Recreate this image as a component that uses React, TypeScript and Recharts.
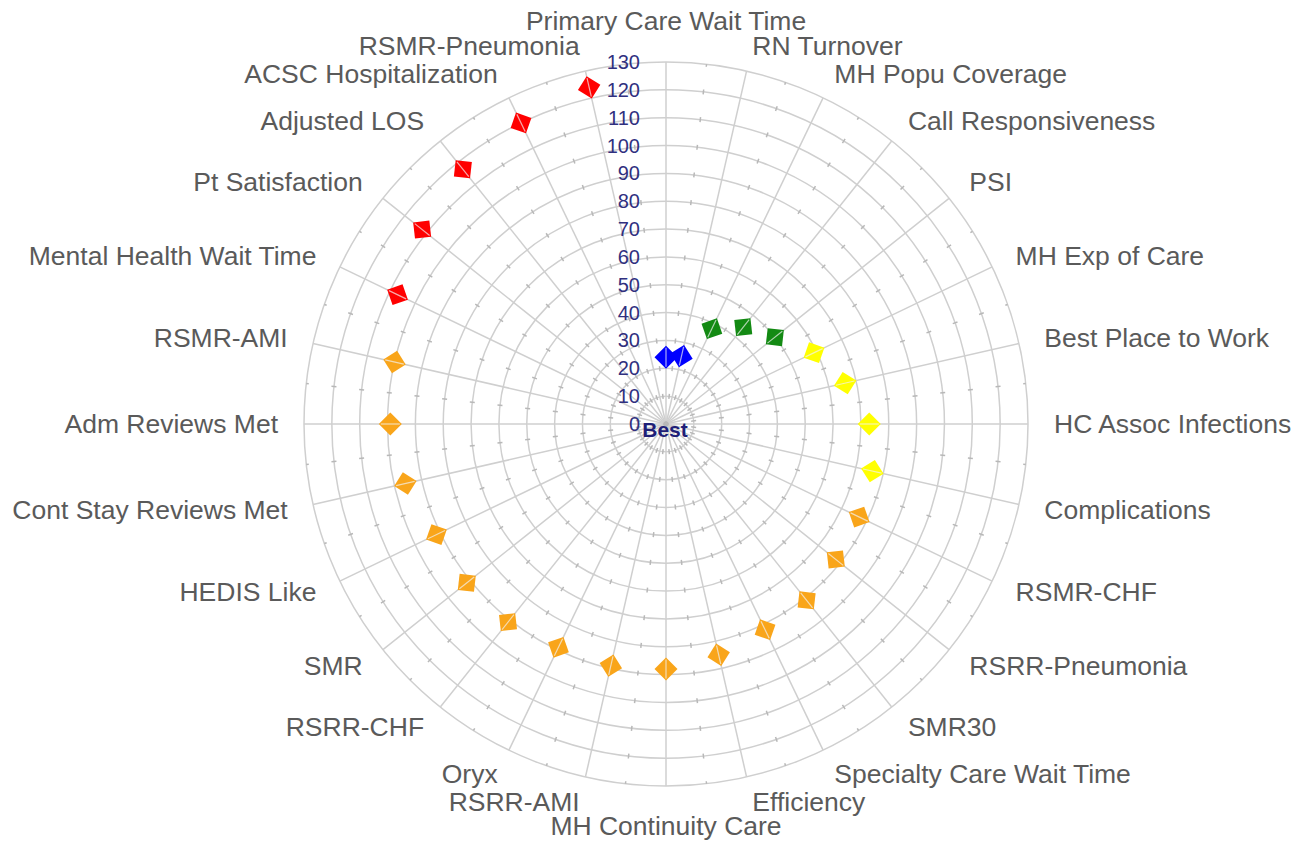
import { RadarChart, PolarGrid, PolarAngleAxis, PolarRadiusAxis, Radar } from "recharts";

const metrics = [
  "Primary Care Wait Time",
  "RN Turnover",
  "MH Popu Coverage",
  "Call Responsiveness",
  "PSI",
  "MH Exp of Care",
  "Best Place to Work",
  "HC Assoc Infections",
  "Complications",
  "RSMR-CHF",
  "RSRR-Pneumonia",
  "SMR30",
  "Specialty Care Wait Time",
  "Efficiency",
  "MH Continuity Care",
  "RSRR-AMI",
  "Oryx",
  "RSRR-CHF",
  "SMR",
  "HEDIS Like",
  "Cont Stay Reviews Met",
  "Adm Reviews Met",
  "RSMR-AMI",
  "Mental Health Wait Time",
  "Pt Satisfaction",
  "Adjusted LOS",
  "ACSC Hospitalization",
  "RSMR-Pneumonia"
];

const scores = [
  24, 25, 38, 44.5, 50, 59, 66, 73, 76, 77, 78, 81, 82, 85, 88, 89, 89, 91,
  91.5, 91.5, 96, 99, 100, 107, 112, 117, 120, 124
];

const bands = [
  "top10", "top10", "q2", "q2", "q2", "q3", "q3", "q3", "q3", "q4", "q4", "q4",
  "q4", "q4", "q4", "q4", "q4", "q4", "q4", "q4", "q4", "q4", "q4",
  "bottom10", "bottom10", "bottom10", "bottom10", "bottom10"
];

const radiusTicks = [0, 10, 20, 30, 40, 50, 60, 70, 80, 90, 100, 110, 120, 130];

const bandColors: Record<string, string> = {
  top10: "#0000ff",
  q2: "#138a13",
  q3: "#ffff00",
  q4: "#f9a51a",
  bottom10: "#ff0000"
};

const W = 1302;
const H = 842;
const CX = 666;
const CY = 424;
const OUTER = 362;
const LABEL_R = 388;
const STEP = OUTER / (radiusTicks.length - 1);

const data = metrics.map((metric, i) => ({ metric, score: scores[i], band: bands[i] }));

// minor tick marks sit halfway between the spokes
const minorAngles = metrics.map((_, i) => 90 - ((i + 0.5) * 360) / metrics.length);

function AngleTick(props: any) {
  const { payload } = props;
  const rad = (payload.coordinate * Math.PI) / 180;
  const cos = Math.cos(rad);
  const sin = Math.sin(rad);
  const x = CX + LABEL_R * cos;
  const y = CY - LABEL_R * sin;
  const anchor = Math.abs(cos) < 0.05 ? "middle" : cos > 0 ? "start" : "end";
  let dy = 9;
  if (sin > 0.99) dy = -6;
  else if (sin < -0.99) dy = 23;
  return (
    <text x={x} y={y + dy} textAnchor={anchor} fill="#5a5a5a" fontSize={26.5}>
      {payload.value}
    </text>
  );
}

function RadiusTick(props: any) {
  const { x, y, payload } = props;
  return (
    <g>
      <text x={x - 26} y={y + 7} textAnchor="end" fill="#30307f" fontSize={20}>
        {payload.value}
      </text>
      {payload.value === 0 && (
        <text x={x - 1} y={y + 13} textAnchor="middle" fill="#1f1f78" fontSize={21} fontWeight="bold">
          Best
        </text>
      )}
    </g>
  );
}

function renderDiamond(props: any) {
  const { cx, cy, index } = props;
  const deg = (Math.atan2(cx - CX, CY - cy) * 180) / Math.PI;
  const h = 11.5;
  return (
    <g key={`d-${index}`} transform={`translate(${cx},${cy}) rotate(${deg})`}>
      <polygon points={`0,${-h} ${h},0 0,${h} ${-h},0`} fill={bandColors[bands[index]]} />
      <line x1={0} y1={-h + 2} x2={0} y2={h - 2} stroke="#f2f2f2" strokeOpacity={0.7} strokeWidth={1.2} />
    </g>
  );
}

export default function App() {
  return (
    <div style={{ position: "absolute", left: 0, top: 0, width: W, height: H }}>
      <RadarChart
        width={W}
        height={H}
        data={data}
        cx={CX}
        cy={CY}
        outerRadius={OUTER}
        style={{ fontFamily: "'Liberation Sans', Arial, sans-serif" }}
      >
        <PolarGrid gridType="circle" stroke="#cfcfcf" strokeWidth={1.5} />
        <PolarGrid
          gridType="circle"
          polarAngles={minorAngles}
          polarRadius={[]}
          stroke="#b8b8b8"
          strokeWidth={1.5}
          strokeDasharray={`5 ${STEP - 5}`}
          strokeDashoffset={2.5}
        />
        <PolarAngleAxis dataKey="metric" tick={<AngleTick />} tickLine={false} axisLine={false} />
        <PolarRadiusAxis
          angle={90}
          domain={[0, 130]}
          ticks={radiusTicks}
          tick={<RadiusTick />}
          axisLine={false}
          tickLine={false}
        />
        <Radar
          dataKey="score"
          stroke="none"
          fill="none"
          dot={renderDiamond}
          isAnimationActive={false}
        />
      </RadarChart>
    </div>
  );
}
